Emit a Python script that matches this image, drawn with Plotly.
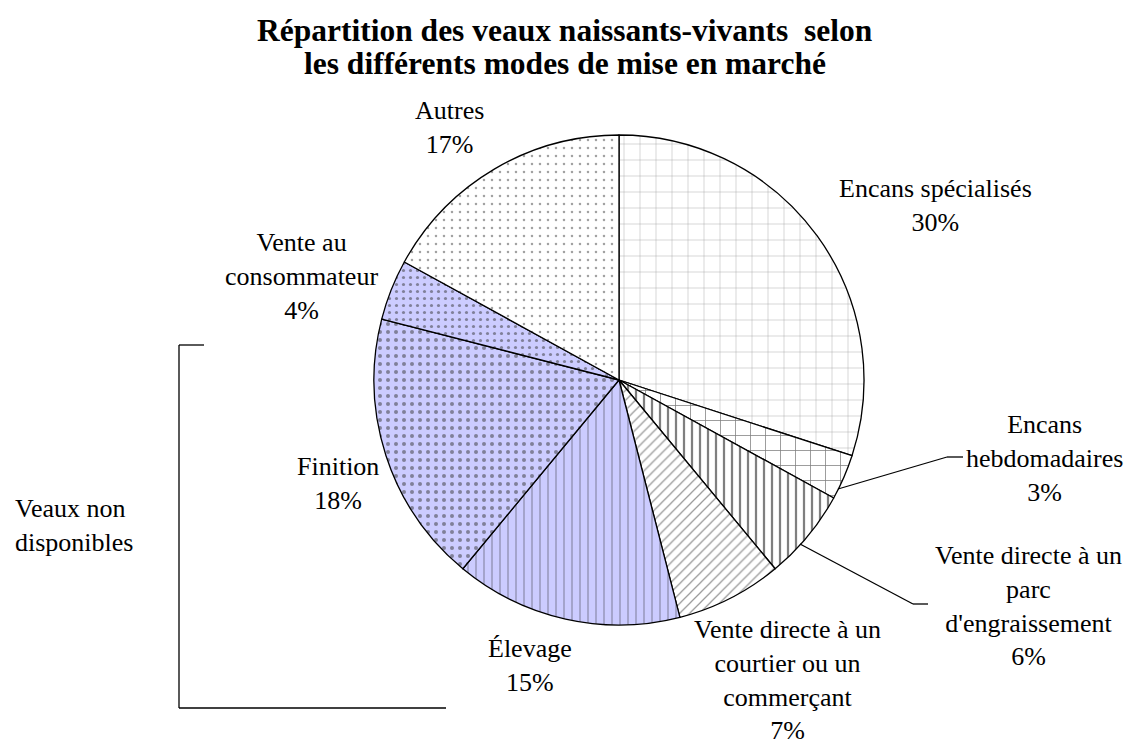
import plotly.graph_objects as go

# target image size and page offset (browser body margin)
W, H = 1132, 746
OFF = 8
FW, FH = W - OFF, H - OFF

categories = [
    "Encans spécialisés",
    "Encans hebdomadaires",
    "Vente directe à un parc d'engraissement",
    "Vente directe à un courtier ou un commerçant",
    "Élevage",
    "Finition",
    "Vente au consommateur",
    "Autres",
]
values = [30, 3, 6, 7, 15, 18, 4, 17]

# label text as displayed (line breaks as in the reference)
label_lines = [
    "Encans spécialisés",
    "Encans<br>hebdomadaires",
    "Vente directe à un<br>parc<br>d'engraissement",
    "Vente directe à un<br>courtier ou un<br>commerçant",
    "Élevage",
    "Finition",
    "Vente au<br>consommateur",
    "Autres",
]

title_lines = [
    "Répartition des veaux naissants-vivants  selon",
    "les différents modes de mise en marché",
]
group_label = "Veaux non<br>disponibles"

LAV = "#CCCCFF"
bg_colors = ["white", "white", "white", "white", LAV, LAV, LAV, "white"]
shapes_pat = ["+", "+", "|", "/", "|", ".", ".", "."]
pat_sizes = [16, 15, 8, 7, 8, 8, 7, 8]
pat_solid = [0.06, 0.1, 0.28, 0.18, 0.12, 0.2, 0.16, 0.08]
fg_colors = ["#555", "black", "black", "#333", "#222", "#333", "#333", "#444"]

FONT = "Liberation Serif"

def px(x, y):
    return (x - OFF) / FW, 1 - (y - OFF) / FH

cx, cy, r = 619, 380, 245
dx0, dy1 = px(cx - r, cy - r)
dx1, dy0 = px(cx + r, cy + r)

fig = go.Figure(go.Pie(
    labels=categories,
    values=values,
    sort=False,
    direction="clockwise",
    rotation=0,
    textinfo="none",
    hoverinfo="label+percent",
    marker=dict(
        colors=bg_colors,
        line=dict(color="black", width=1.3),
        pattern=dict(
            shape=shapes_pat,
            size=pat_sizes,
            solidity=pat_solid,
            fgcolor=fg_colors,
            bgcolor=bg_colors,
            fillmode="overlay",
        ),
    ),
    domain=dict(x=[dx0, dx1], y=[dy0, dy1]),
    showlegend=False,
))

# label positions (pixel centers of text blocks)
label_pos = [
    (935, 205),
    (1044, 458),
    (1028, 606),
    (787, 680),
    (530, 665),
    (338, 483),
    (301, 276),
    (449, 127),
]

annotations = []
for name, v, (x, y) in zip(label_lines, values, label_pos):
    ax, ay = px(x, y)
    annotations.append(dict(
        x=ax, y=ay, xref="paper", yref="paper",
        text=f"{name}<br>{v}%", showarrow=False,
        font=dict(family=FONT, size=26, color="black"),
        align="center", xanchor="center", yanchor="middle",
    ))

vx, vy = px(74, 525)
annotations.append(dict(
    x=vx, y=vy, xref="paper", yref="paper",
    text=group_label, showarrow=False,
    font=dict(family=FONT, size=26, color="black"),
    align="left", xanchor="center", yanchor="middle",
))

for t, ty in zip(title_lines, [30, 64]):
    tx, tyy = px(565, ty)
    annotations.append(dict(
        x=tx, y=tyy, xref="paper", yref="paper",
        text=f"<b>{t}</b>", showarrow=False,
        font=dict(family=FONT, size=31.5, color="black"),
        xanchor="center", yanchor="middle",
    ))

def seg(p1, p2):
    x0, y0 = px(*p1)
    x1, y1 = px(*p2)
    return dict(type="line", xref="paper", yref="paper", x0=x0, y0=y0, x1=x1, y1=y1,
                line=dict(color="black", width=1.3))

shapes = [
    # leader lines
    seg((838, 489), (947, 457)),
    seg((947, 457), (963, 457)),
    seg((800, 544), (913, 604)),
    seg((913, 604), (928, 604)),
    # bracket
    seg((179, 345), (204, 345)),
    seg((179, 345), (179, 708)),
    seg((179, 708), (446, 708)),
]

fig.update_layout(
    width=FW, height=FH,
    margin=dict(l=0, r=0, t=0, b=0),
    paper_bgcolor="white",
    plot_bgcolor="white",
    annotations=annotations,
    shapes=shapes,
)

fig.write_html("out.html")
